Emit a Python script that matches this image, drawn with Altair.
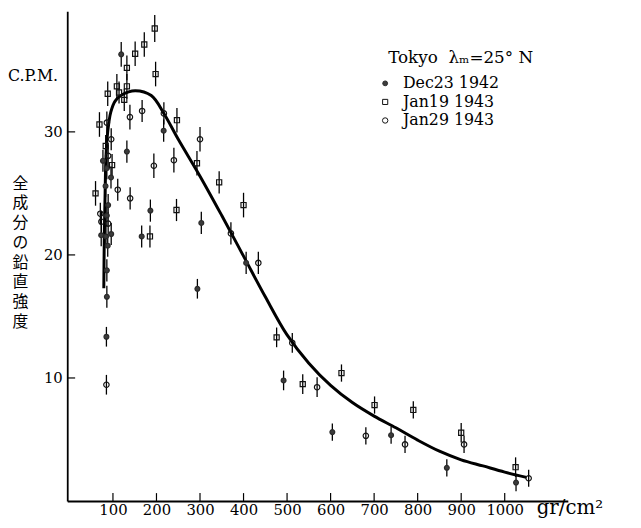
import altair as alt
import pandas as pd

SERIES = ["Dec23 1942", "Jan19 1943", "Jan29 1943"]
LEGEND_TITLE = "Tokyo\u00a0\u00a0λₘ=25°\u00a0N"

# Dec23 1942 (filled circles)
dec_p = [73, 77, 83, 84, 85, 86, 86, 86, 86, 88, 89, 95.5, 96, 119, 132, 166, 186, 216.5, 294, 303, 406, 492, 604, 739, 867, 1026]
dec_c = [21.6, 27.65, 25.6, 21.5, 13.35, 27.05, 23.2, 18.75, 16.6, 20.75, 24.05, 26.3, 21.7, 36.3, 28.4, 21.5, 23.6, 30.1, 17.25, 22.6, 19.35, 9.8, 5.6, 5.35, 2.7, 1.5]
dec_e = [0.9, 0.9, 0.9, 0.9, 0.8, 0.9, 0.9, 0.9, 0.9, 0.9, 0.9, 0.9, 0.9, 1.0, 0.9, 0.9, 0.9, 0.9, 0.8, 0.9, 0.9, 0.8, 0.7, 0.7, 0.7, 0.7]

# Jan19 1943 (open squares)
jan19_p = [60, 69, 83.4, 88, 98, 109, 114, 126, 132, 132, 151, 172, 185, 196, 198, 246, 247, 293, 344, 400, 476, 536, 625, 701, 790, 900, 1025]
jan19_c = [25.0, 30.6, 28.85, 33.1, 27.3, 33.7, 33.2, 32.6, 35.2, 33.7, 36.35, 37.1, 21.5, 38.4, 34.7, 23.65, 30.95, 27.45, 25.9, 24.05, 13.3, 9.5, 10.4, 7.8, 7.4, 5.55, 2.75]
jan19_e = [1.0, 1.0, 0.9, 1.0, 0.9, 1.0, 0.9, 0.9, 1.0, 1.0, 1.0, 1.0, 0.9, 1.1, 1.0, 0.9, 1.0, 1.0, 0.9, 1.0, 0.8, 0.8, 0.7, 0.7, 0.7, 0.8, 0.8]

# Jan29 1943 (open circles)
jan29_p = [71, 73.5, 85, 86, 89, 89, 96, 111, 139, 139.5, 167, 194, 217, 240, 300, 371, 434, 512, 569, 681, 771, 906.6, 1055]
jan29_c = [23.35, 22.7, 9.45, 30.75, 28.05, 22.55, 29.4, 25.3, 31.2, 24.6, 31.7, 27.25, 31.5, 27.7, 29.4, 21.75, 19.35, 12.85, 9.25, 5.3, 4.6, 4.6, 1.85]
jan29_e = [0.9, 0.9, 0.8, 0.9, 0.9, 0.9, 0.9, 0.9, 1.0, 0.9, 0.9, 1.0, 0.9, 1.0, 1.0, 0.9, 0.9, 0.8, 0.8, 0.7, 0.7, 0.7, 0.7]

# smooth fitted curve
curve_p = [79, 80, 82, 84, 88, 95, 105, 120, 151, 188, 217, 250, 300, 350, 400, 450, 500, 550, 600, 650, 700, 750, 800, 850, 900, 950, 1000, 1050]
curve_c = [17.3, 21, 25, 28, 30, 31.6, 32.5, 33.0, 33.35, 32.95, 31.5, 29.4, 26.4, 23.2, 19.9, 16.6, 13.5, 11.2, 9.4, 8.0, 6.9, 5.95, 4.95, 4.05, 3.35, 2.85, 2.35, 1.92]

x_ticks = [100, 200, 300, 400, 500, 600, 700, 800, 900, 1000]
y_ticks = [10, 20, 30]
y_title = ["全", "成", "分", "の", "鉛", "直", "強", "度"]

rows = []
for name, ps, cs, es in [(SERIES[0], dec_p, dec_c, dec_e),
                         (SERIES[1], jan19_p, jan19_c, jan19_e),
                         (SERIES[2], jan29_p, jan29_c, jan29_e)]:
    for p, c, e in zip(ps, cs, es):
        rows.append({"p": p, "c": c, "lo": c - e, "hi": c + e, "series": name})
df = pd.DataFrame(rows)
curve_df = pd.DataFrame({"p": curve_p, "c": curve_c, "i": list(range(len(curve_p)))})
xt_df = pd.DataFrame({"p": x_ticks})
yt_df = pd.DataFrame({"c": y_ticks})

SERIF = "DejaVu Serif"
xscale = alt.Scale(domain=[-5, 1145], nice=False, zero=False)
yscale = alt.Scale(domain=[0, 39.8], nice=False, zero=False)

X = alt.X("p:Q", scale=xscale, axis=alt.Axis(
    values=x_ticks, format="d", title="gr/cm²", titleX=475, titleY=13, titleAlign="left",
    titleBaseline="alphabetic", titleFont=SERIF, titleFontSize=20, titleFontWeight="normal",
    labelPadding=2, labelFlush=False))
Y = alt.Y("c:Q", scale=yscale, axis=alt.Axis(
    values=y_ticks, title=y_title, titleAngle=0, titleX=-48, titleY=166,
    titleAlign="center", titleBaseline="top", titleLineHeight=20,
    titleFont="Noto Sans CJK JP", titleFontSize=16, titleFontWeight="normal",
    labelPadding=5))

errbars = alt.Chart(df).mark_rule(color="black", strokeWidth=1.3).encode(
    x=X, y=alt.Y("lo:Q", scale=yscale), y2="hi:Q")

points = alt.Chart(df).mark_point(opacity=1, strokeWidth=1.2).encode(
    x=X, y=Y,
    shape=alt.Shape("series:N", title=None, scale=alt.Scale(domain=SERIES, range=["circle", "square", "circle"])),
    fill=alt.Fill("series:N", title=None, scale=alt.Scale(domain=SERIES, range=["#3c3c3c", "#ffffff00", "#ffffff00"])),
    stroke=alt.Stroke("series:N", title=None, scale=alt.Scale(domain=SERIES, range=["#2a2a2a", "#111111", "#111111"])),
    size=alt.Size("series:N", title=None, scale=alt.Scale(domain=SERIES, range=[24, 30, 38])),
)

curve = alt.Chart(curve_df).mark_line(color="black", strokeWidth=3, interpolate="catmull-rom").encode(
    x=X, y=Y, order="i:Q")

xtick_marks = alt.Chart(xt_df).mark_rule(color="black", strokeWidth=1.2).encode(
    x=X, y=alt.value(496), y2=alt.value(488))
ytick_marks = alt.Chart(yt_df).mark_rule(color="black", strokeWidth=1.2).encode(
    y=Y, x=alt.value(0), x2=alt.value(8))

cpm = alt.Chart(pd.DataFrame({"t": ["C.P.M."]})).mark_text(
    align="left", baseline="middle", font=SERIF, fontSize=16, color="black").encode(
    text="t:N", x=alt.value(-60), y=alt.value(66))

legend_title = alt.Chart(pd.DataFrame({"t": [LEGEND_TITLE]})).mark_text(
    align="left", baseline="middle", font=SERIF, fontSize=17, color="black").encode(
    text="t:N", x=alt.value(325), y=alt.value(47))

chart = alt.layer(errbars, curve, points, xtick_marks, ytick_marks, cpm, legend_title).properties(
    width=507, height=496,
    autosize=alt.AutoSizeParams(type="none"),
    padding={"left": 60, "top": 0, "right": 66, "bottom": 24},
).configure_view(stroke=None).configure_axis(
    grid=False, ticks=False, tickSize=0, domainColor="black", domainWidth=1.8,
    labelColor="black", labelFont=SERIF, labelFontSize=15, titleColor="black",
).configure_legend(
    orient="none", legendX=314, legendY=65, padding=0,
    labelFont=SERIF, labelFontSize=16, labelColor="black",
    labelOffset=10, rowPadding=2.8, symbolStrokeWidth=1,
)

chart.save("out.html", embed_options={"renderer": "svg", "actions": False})
